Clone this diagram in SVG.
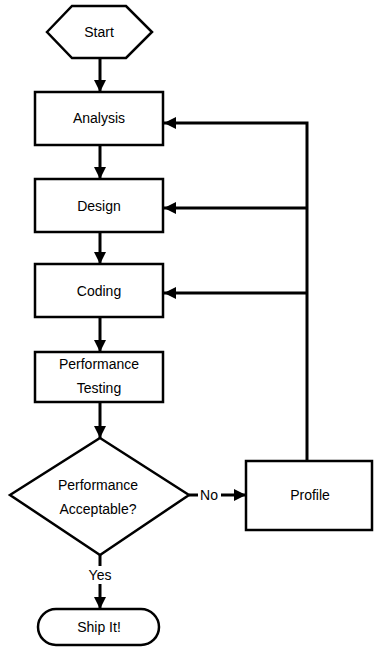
<svg xmlns="http://www.w3.org/2000/svg" width="374" height="647" viewBox="0 0 374 647">
<style>
.n{fill:#fff;stroke:#000;stroke-width:2.5}
.t{font-family:"Liberation Sans",Arial,sans-serif;font-size:14px;fill:#000;text-anchor:middle;dominant-baseline:central}
.c{fill:none;stroke:#000;stroke-width:3}
</style>
<defs>
<marker id="ah" markerUnits="userSpaceOnUse" viewBox="0 0 12 12" refX="12" refY="6" markerWidth="12" markerHeight="12" orient="auto">
<path d="M0,0 L12,6 L0,12 Z" fill="#000"/>
</marker>
</defs>
<rect width="374" height="647" fill="#fff"/>
<g id="connectors">
<path class="c" d="M100,58 V92" marker-end="url(#ah)"/>
<path class="c" d="M100,145 V179" marker-end="url(#ah)"/>
<path class="c" d="M100,232 V264" marker-end="url(#ah)"/>
<path class="c" d="M100,317 V352" marker-end="url(#ah)"/>
<path class="c" d="M100,402 V438" marker-end="url(#ah)"/>
<path class="c" d="M100,555 V566"/>
<path class="c" d="M100,584 V609" marker-end="url(#ah)"/>
<text class="t" x="100" y="575">Yes</text>
<path class="c" d="M189,495 H198"/>
<text class="t" x="209" y="495">No</text>
<path class="c" d="M221,495 H246" marker-end="url(#ah)"/>
<path class="c" d="M307,461 V123 H164" marker-end="url(#ah)"/>
<path class="c" d="M307,208 H164" marker-end="url(#ah)"/>
<path class="c" d="M307,293 H164" marker-end="url(#ah)"/>
</g>
<g id="start">
<polygon class="n" points="47,32 72,6 126,6 152,32 126,58 72,58"/>
<text class="t" x="99" y="32">Start</text>
</g>
<g id="analysis">
<rect class="n" x="35" y="92" width="128" height="53"/>
<text class="t" x="99" y="118">Analysis</text>
</g>
<g id="design">
<rect class="n" x="35" y="179" width="128" height="53"/>
<text class="t" x="99" y="206">Design</text>
</g>
<g id="coding">
<rect class="n" x="35" y="264" width="128" height="53"/>
<text class="t" x="99" y="291">Coding</text>
</g>
<g id="perftest">
<rect class="n" x="35" y="352" width="128" height="50"/>
<text class="t" x="99" y="364">Performance</text>
<text class="t" x="99" y="388">Testing</text>
</g>
<g id="decision">
<polygon class="n" points="100,438 189,495 100,555 10,495"/>
<text class="t" x="98" y="485">Performance</text>
<text class="t" x="98" y="509">Acceptable?</text>
</g>
<g id="profile">
<rect class="n" x="246" y="461" width="126" height="69"/>
<text class="t" x="310" y="495">Profile</text>
</g>
<g id="ship">
<rect class="n" x="38" y="609" width="121" height="36" rx="18" ry="18"/>
<text class="t" x="99" y="627">Ship It!</text>
</g>
</svg>
